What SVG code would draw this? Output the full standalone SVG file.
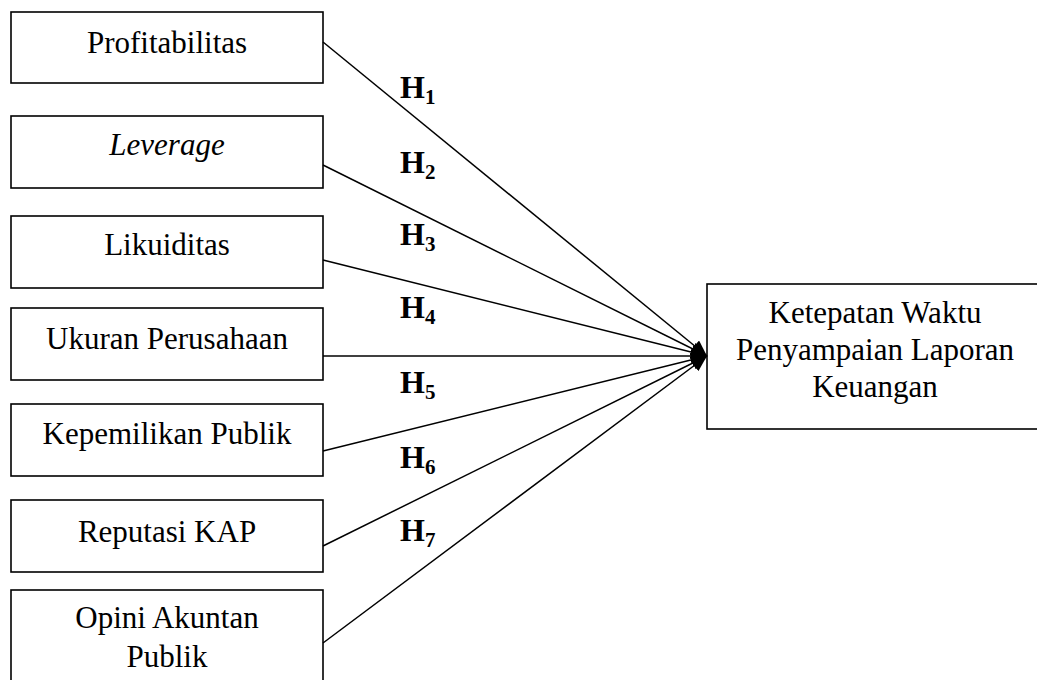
<svg xmlns="http://www.w3.org/2000/svg" width="1037" height="680" viewBox="0 0 1037 680">
<style>
.box{fill:#fff;stroke:#000;stroke-width:1.6}
.t{font-family:"Liberation Serif","Times New Roman",serif;font-size:31px;fill:#000;text-anchor:middle}
.h{font-family:"Liberation Serif","Times New Roman",serif;font-size:32px;font-weight:bold;fill:#000}
.s{font-size:21px}
.c{stroke:#000;stroke-width:1.5;fill:none;marker-end:url(#ah)}
</style>
<defs>
<marker id="ah" markerUnits="userSpaceOnUse" markerWidth="18" markerHeight="14" refX="16" refY="7" orient="auto">
<path d="M0,0 L16,7 L0,14 Z" fill="#000"/>
</marker>
</defs>
<rect width="1037" height="680" fill="#fff"/>
<g id="n1"><rect class="box" x="11" y="12" width="312" height="71"/><text class="t" x="167" y="53">Profitabilitas</text></g>
<g id="n2"><rect class="box" x="11" y="116" width="312" height="72"/><text class="t" x="167" y="155" font-style="italic">Leverage</text></g>
<g id="n3"><rect class="box" x="11" y="216" width="312" height="72"/><text class="t" x="167" y="255">Likuiditas</text></g>
<g id="n4"><rect class="box" x="11" y="308" width="312" height="72"/><text class="t" x="167" y="349">Ukuran Perusahaan</text></g>
<g id="n5"><rect class="box" x="11" y="404" width="312" height="72"/><text class="t" x="167" y="444">Kepemilikan Publik</text></g>
<g id="n6"><rect class="box" x="11" y="500" width="312" height="72"/><text class="t" x="167" y="542">Reputasi KAP</text></g>
<g id="n7"><rect class="box" x="11" y="590" width="312" height="100"/><text class="t" x="167" y="628">Opini Akuntan</text><text class="t" x="167" y="667">Publik</text></g>
<g id="n8"><rect class="box" x="707" y="284" width="340" height="145"/><text class="t" x="875" y="323">Ketepatan Waktu</text><text class="t" x="875" y="360">Penyampaian Laporan</text><text class="t" x="875" y="397">Keuangan</text></g>
<g id="connectors">
<line class="c" x1="323" y1="42" x2="707" y2="356"/>
<line class="c" x1="323" y1="165" x2="707" y2="356"/>
<line class="c" x1="323" y1="260" x2="707" y2="356"/>
<line class="c" x1="323" y1="356" x2="707" y2="356"/>
<line class="c" x1="323" y1="451" x2="707" y2="356"/>
<line class="c" x1="323" y1="546" x2="707" y2="356"/>
<line class="c" x1="323" y1="643" x2="707" y2="356"/>
</g>
<g id="labels">
<text class="h" x="400" y="98">H<tspan class="s" dy="6">1</tspan></text>
<text class="h" x="400" y="173">H<tspan class="s" dy="6">2</tspan></text>
<text class="h" x="400" y="245">H<tspan class="s" dy="6">3</tspan></text>
<text class="h" x="400" y="318">H<tspan class="s" dy="6">4</tspan></text>
<text class="h" x="400" y="393">H<tspan class="s" dy="6">5</tspan></text>
<text class="h" x="400" y="468">H<tspan class="s" dy="6">6</tspan></text>
<text class="h" x="400" y="541">H<tspan class="s" dy="6">7</tspan></text>
</g>
</svg>
